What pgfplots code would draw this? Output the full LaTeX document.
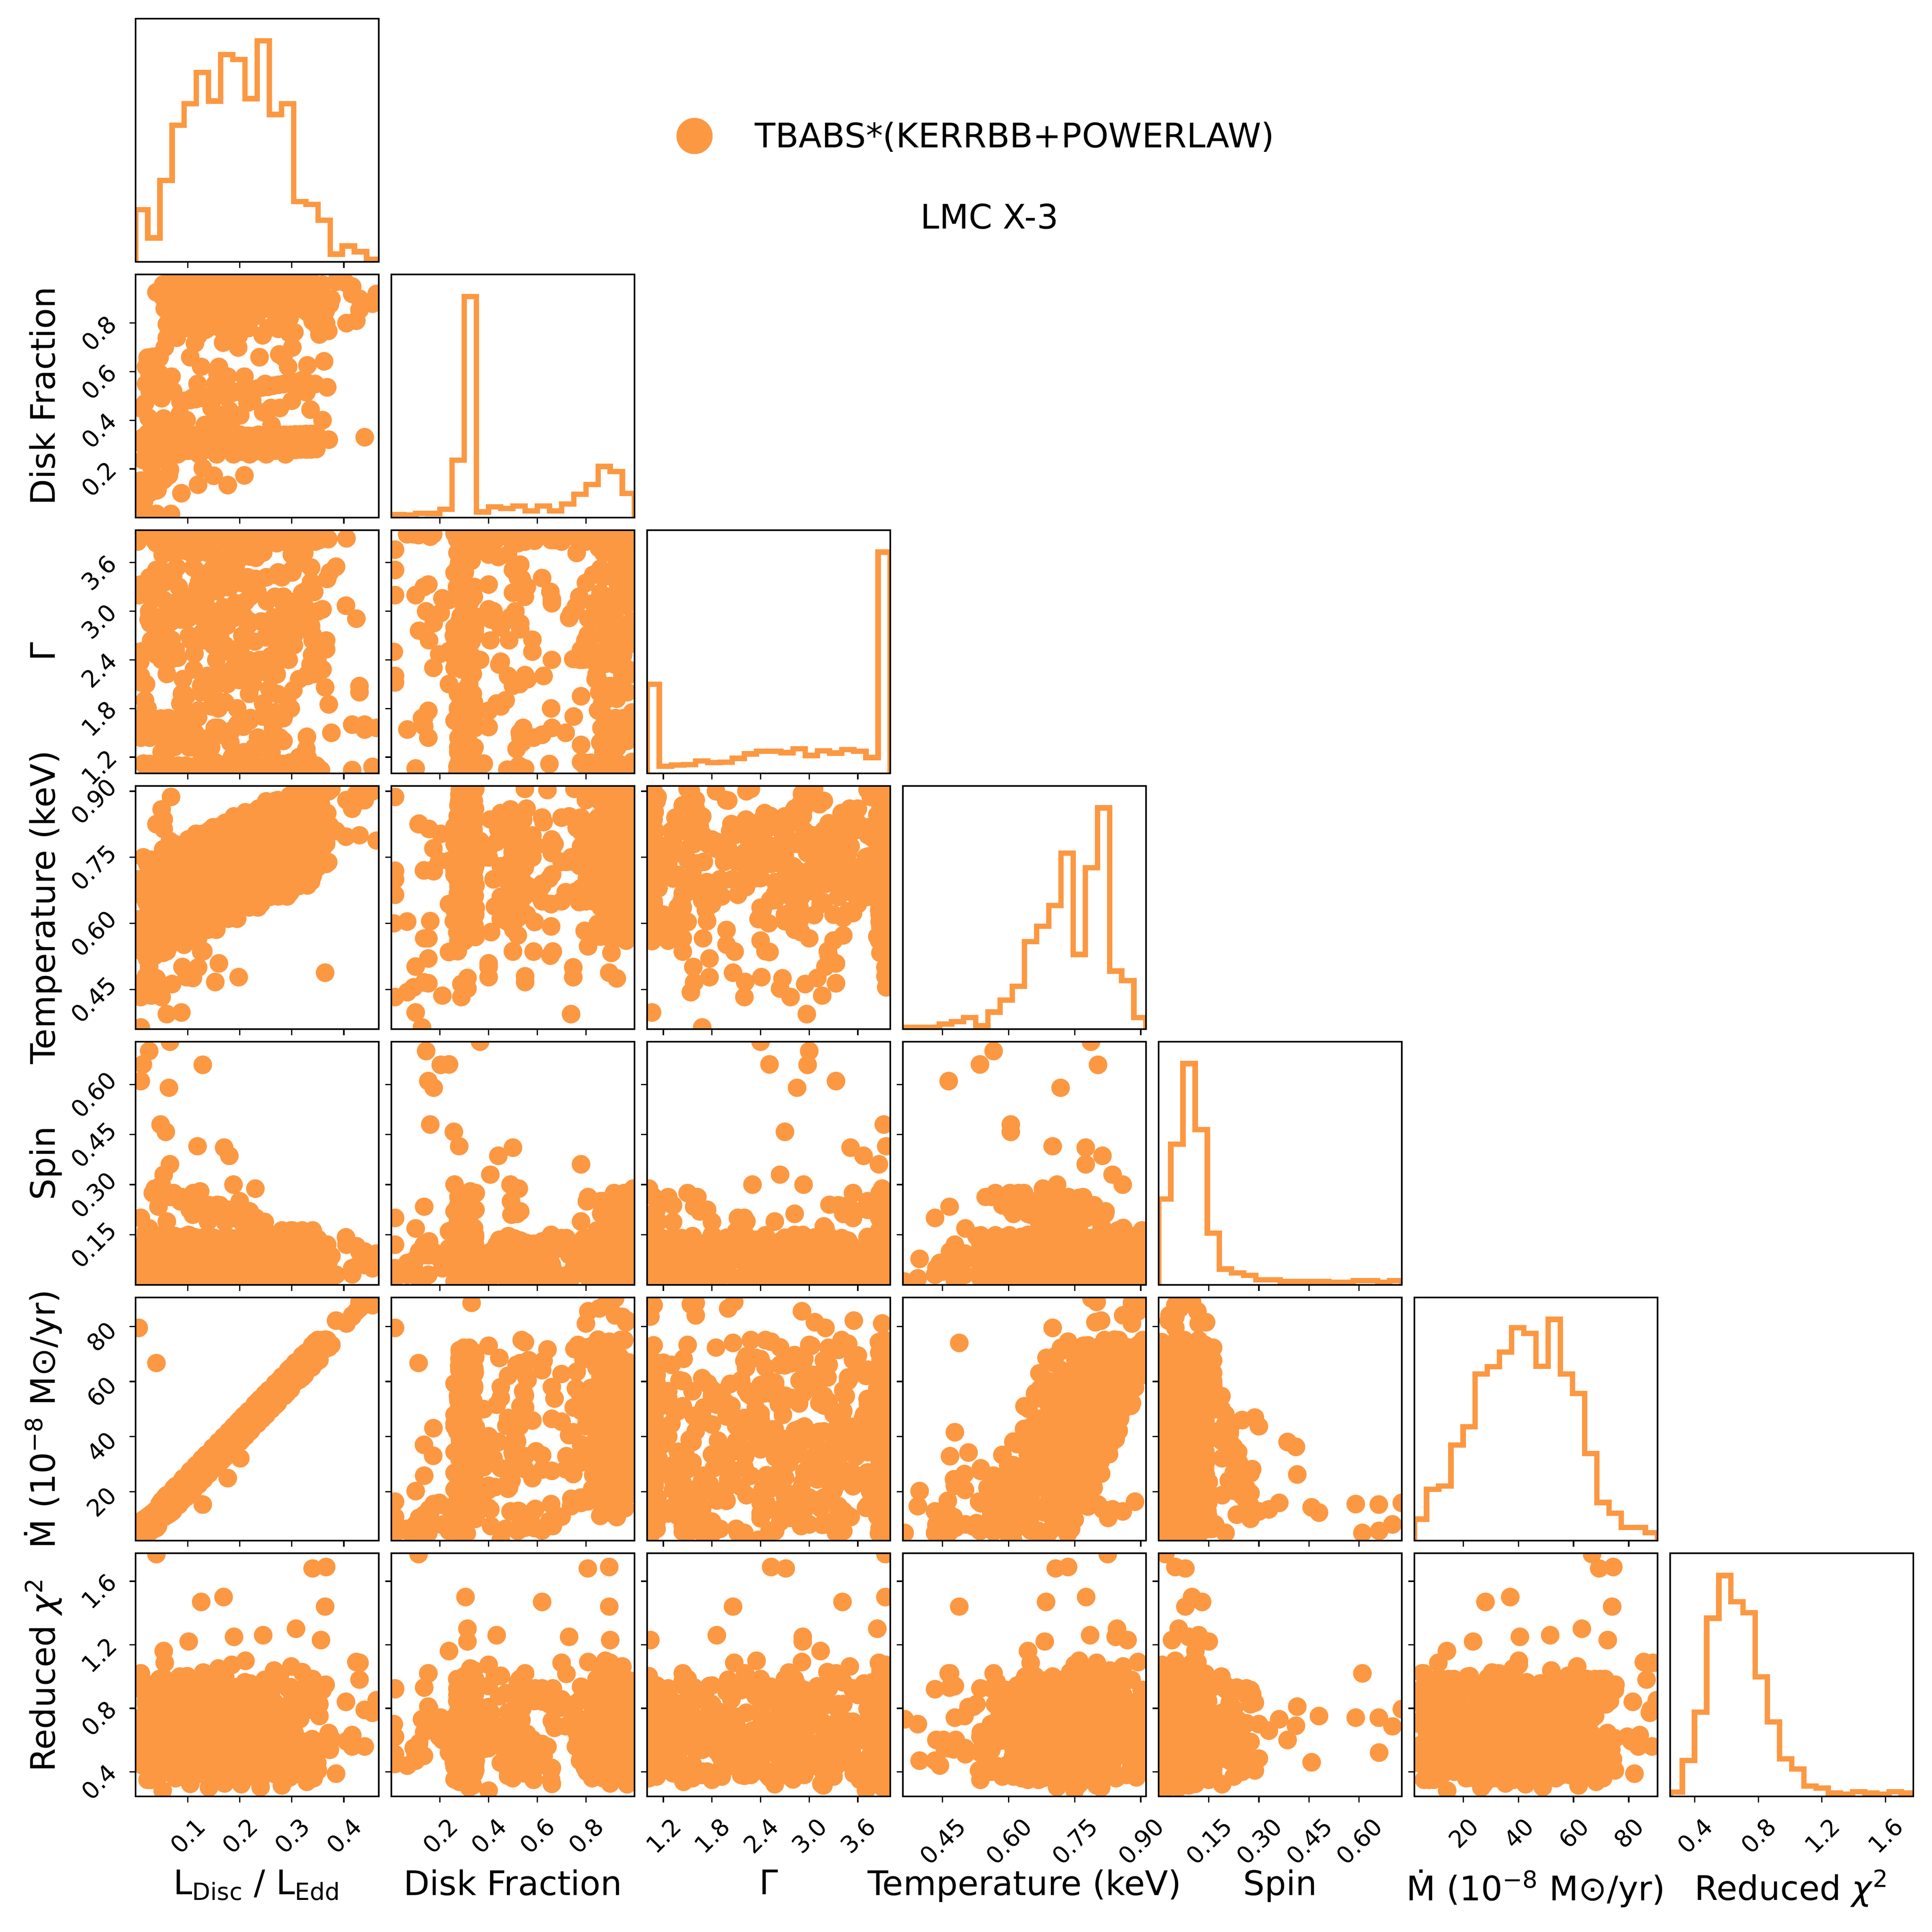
\documentclass[border=0pt]{standalone}
\usepackage{fontspec}
\setmainfont{DejaVu Sans}
\usepackage{graphicx}
\usepackage{pgfplots}
\usepackage{pgfplotstable}
\pgfplotsset{compat=1.18}
\definecolor{cor}{RGB}{252,152,66}
\newcommand\rot[1]{\rotatebox{45}{#1}}
\newcommand\mdotlab{\.{M} (10\textsuperscript{−8} M⊙/yr)}
\newcommand\chilab{Reduced \textit{χ}\textsuperscript{2}}
\pgfdeclareplotmark{rdot}{%
  \pgfpathmoveto{\pgfqpoint{-0.01pt}{0pt}}%
  \pgfpathlineto{\pgfqpoint{0.01pt}{0pt}}%
  \pgfusepathqstroke}

\pgfplotstableread{
L F G T S M C
0.004 0.31 3.86 0.69 0.08 4.8 0.572
0.009 0.45 2.375 0.61 0.03 2.5 0.456
0.015 0.33 1.12 0.75 0.12 9.9 0.75
0.020 0.62 3.99 0.65 0.10 5.9 0.574
0.028 0.53 2.85 0.72 0.05 10.5 0.948
0.040 0.30 3.88 0.61 0.14 6.8 0.644
0.049 0.34 1.675 0.68 0.09 12.6 0.388
0.052 0.40 3.70 0.75 0.01 14.1 0.282
0.056 0.70 3.86 0.65 0.11 10.9 1.086
0.060 0.32 2.225 0.71 0.19 18.7 0.772
0.063 0.93 1.12 0.61 0.06 14.3 0.496
0.066 0.28 3.99 0.73 0.08 17.9 0.66
0.069 0.58 2.65 0.68 0.03 12.5 0.474
0.071 0.85 3.10 0.73 0.12 16.8 0.758
0.073 0.335 3.98 0.65 0.10 18.2 0.944
0.075 0.315 1.325 0.78 0.05 14.6 0.588
0.077 0.97 3.86 0.68 0.14 22.0 0.362
0.079 0.74 3.96 0.75 0.09 17.4 0.816
0.081 0.26 2.425 0.63 0.01 20.8 0.522
0.083 0.90 1.02 0.70 0.11 15.2 0.596
0.085 0.325 3.94 0.76 0.26 19.6 0.48
0.087 0.48 2.90 0.66 0.06 21.0 0.774
0.089 0.88 3.98 0.72 0.08 17.4 0.598
0.091 0.31 1.725 0.63 0.03 24.7 0.864
0.093 0.33 3.75 0.75 0.12 20.1 0.668
0.095 0.95 3.96 0.70 0.10 23.5 0.412
0.097 0.78 1.95 0.74 0.05 17.9 0.616
0.099 0.30 1.02 0.66 0.14 22.3 1.002
0.101 0.92 3.94 0.79 0.09 23.7 0.796
0.103 0.34 2.70 0.69 0.01 20.1 0.52
0.105 0.66 3.15 0.76 0.11 27.5 0.324
0.107 0.86 3.92 0.64 0.25 22.9 0.498
0.109 0.32 1.375 0.71 0.06 26.3 0.674
0.111 0.28 3.96 0.78 0.08 20.6 0.968
0.112 0.99 3.90 0.68 0.03 24.8 0.612
0.113 0.83 2.475 0.74 0.12 26.0 0.386
0.115 0.335 1.08 0.64 0.10 22.4 0.732
0.116 0.93 3.88 0.76 0.05 29.6 0.546
0.118 0.315 2.95 0.71 0.14 25.0 0.62
0.119 0.55 3.92 0.75 0.09 28.2 0.504
0.121 0.85 1.775 0.67 0.01 22.6 0.798
0.122 0.26 3.475 0.80 0.11 26.8 0.514
0.124 0.325 3.90 0.70 0.28 28.2 0.888
0.125 0.97 2.00 0.77 0.06 24.4 0.692
0.127 0.80 1.08 0.65 0.08 31.8 0.436
0.128 0.31 3.88 0.72 0.03 27.0 0.532
0.130 0.90 2.75 0.79 0.12 30.4 1.026
0.131 0.33 3.20 0.69 0.10 24.5 0.82
0.133 0.38 3.86 0.75 0.05 28.9 0.544
0.134 0.88 1.425 0.65 0.14 30.1 0.708
0.135 0.30 3.90 0.77 0.09 26.3 0.414
0.136 0.34 3.99 0.72 0.01 33.5 0.698
0.138 0.95 2.20 0.76 0.11 28.9 0.992
0.139 0.78 1.14 0.68 0.19 32.1 0.636
0.141 0.32 3.98 0.81 0.06 26.5 0.302
0.143 0.92 3.00 0.71 0.08 30.9 0.756
0.144 0.28 3.86 0.78 0.03 32.1 0.57
0.146 0.45 1.825 0.66 0.12 28.5 0.644
0.148 0.86 3.525 0.73 0.10 35.9 0.528
0.149 0.335 3.99 0.79 0.05 31.1 0.714
0.151 0.315 2.05 0.70 0.14 34.4 0.538
0.152 0.99 1.14 0.76 0.09 28.6 0.912
0.154 0.83 3.98 0.66 0.01 33.0 0.716
0.156 0.26 2.80 0.78 0.11 34.4 0.352
0.157 0.93 3.25 0.73 0.24 30.6 0.556
0.159 0.325 3.96 0.77 0.06 38.0 1.05
0.160 0.62 1.475 0.69 0.08 33.2 0.844
0.162 0.85 3.99 0.82 0.03 36.6 0.568
0.164 0.31 3.94 0.72 0.12 31.0 0.624
0.165 0.33 2.25 0.79 0.10 35.2 0.438
0.167 0.97 1.04 0.67 0.05 36.6 0.722
0.168 0.72 3.92 0.74 0.14 32.8 1.016
0.169 0.30 3.05 0.80 0.09 40.0 0.552
0.171 0.90 3.96 0.71 0.01 35.3 0.326
0.172 0.34 1.875 0.77 0.11 38.5 0.78
0.173 0.53 3.575 0.67 0.22 32.7 0.594
0.175 0.88 3.94 0.79 0.06 37.1 0.668
0.176 0.32 2.10 0.74 0.08 38.3 0.444
0.177 0.28 1.04 0.78 0.03 34.5 0.738
0.179 0.95 3.92 0.70 0.12 41.9 0.562
0.180 0.78 2.525 0.83 0.10 37.1 0.936
0.181 0.335 3.30 0.73 0.05 40.3 0.632
0.182 0.92 3.90 0.80 0.14 34.5 0.376
0.184 0.315 1.525 0.68 0.09 38.9 0.58
0.185 0.40 3.94 0.75 0.01 40.1 1.074
0.186 0.86 3.88 0.81 0.11 36.3 0.868
0.188 0.26 2.30 0.71 0.30 43.7 0.484
0.189 0.325 1.10 0.77 0.06 38.9 0.648
0.191 0.99 3.86 0.68 0.08 42.2 0.462
0.192 0.83 3.10 0.80 0.03 36.4 0.746
0.193 0.31 3.90 0.75 0.12 40.6 0.932
0.195 0.93 1.60 0.79 0.10 42.0 0.576
0.196 0.33 3.625 0.71 0.05 38.2 0.35
0.197 0.70 3.88 0.84 0.14 45.4 0.804
0.199 0.85 2.15 0.74 0.09 40.8 0.618
0.200 0.30 1.10 0.81 0.01 44.0 0.584
0.201 0.34 3.86 0.69 0.11 38.2 0.468
0.203 0.97 2.575 0.76 0.19 42.6 0.322
0.204 0.80 3.35 0.82 0.06 43.8 0.586
0.205 0.32 3.99 0.72 0.08 40.0 0.852
0.207 0.90 1.575 0.78 0.03 47.4 0.656
0.208 0.28 3.88 0.68 0.12 42.6 0.40
0.209 0.58 3.98 0.80 0.10 45.8 0.604
0.211 0.88 2.35 0.76 0.05 40.1 1.098
0.213 0.335 1.00 0.80 0.14 44.5 0.784
0.214 0.315 3.96 0.72 0.09 45.7 0.508
0.216 0.95 2.825 0.85 0.01 42.1 0.672
0.217 0.78 3.99 0.75 0.11 49.3 0.486
0.219 0.26 1.65 0.82 0.22 44.7 0.662
0.220 0.92 3.675 0.70 0.06 47.9 0.956
0.222 0.325 3.98 0.77 0.08 42.3 0.60
0.224 0.48 2.20 0.83 0.03 46.7 0.374
0.225 0.86 1.00 0.73 0.12 47.9 0.828
0.227 0.31 3.96 0.79 0.10 44.3 0.534
0.229 0.33 2.625 0.69 0.05 51.7 0.608
0.230 0.99 3.40 0.82 0.14 46.9 0.492
0.232 0.83 3.94 0.77 0.09 50.2 0.786
0.234 0.30 1.30 0.81 0.01 44.6 0.502
0.235 0.93 3.98 0.73 0.11 48.8 0.876
0.236 0.34 3.92 0.86 0.17 50.0 0.68
0.238 0.66 2.40 0.76 0.06 46.4 0.424
0.239 0.85 1.06 0.83 0.08 53.6 0.628
0.240 0.32 3.90 0.71 0.03 48.8 0.304
0.241 0.28 2.875 0.78 0.12 52.0 0.808
0.243 0.97 3.94 0.84 0.10 46.4 0.532
0.244 0.75 1.70 0.74 0.05 50.6 0.696
0.245 0.335 3.725 0.80 0.14 51.8 0.402
0.246 0.90 3.92 0.70 0.09 48.0 0.686
0.248 0.315 2.25 0.82 0.01 55.4 0.98
0.249 0.55 1.06 0.77 0.11 50.6 0.624
0.250 0.88 3.90 0.82 0.16 53.8 0.398
0.251 0.26 2.675 0.74 0.06 47.9 0.744
0.252 0.325 3.125 0.87 0.08 52.1 0.558
0.253 0.95 3.88 0.77 0.03 53.3 0.632
0.255 0.78 1.35 0.84 0.12 49.7 0.516
0.256 0.31 3.92 0.72 0.10 56.9 0.702
0.258 0.92 3.86 0.79 0.05 52.3 0.526
0.260 0.33 2.45 0.85 0.14 55.7 0.90
0.261 0.38 1.12 0.75 0.09 49.9 0.704
0.263 0.86 3.99 0.81 0.01 54.3 0.448
0.265 0.30 2.925 0.71 0.11 55.7 0.544
0.266 0.34 3.88 0.83 0.07 51.9 1.038
0.268 0.99 1.75 0.78 0.06 59.3 0.832
0.270 0.83 3.45 0.83 0.08 54.7 0.556
0.272 0.32 3.86 0.75 0.03 58.0 0.612
0.273 0.93 1.975 0.88 0.12 52.2 0.426
0.275 0.28 1.12 0.78 0.10 56.6 0.71
0.277 0.45 3.99 0.85 0.05 58.0 1.004
0.279 0.85 2.725 0.73 0.14 54.4 0.648
0.281 0.335 3.175 0.80 0.09 61.8 0.314
0.283 0.315 3.98 0.86 0.01 57.2 0.768
0.284 0.97 1.40 0.76 0.11 60.4 0.582
0.286 0.80 3.86 0.82 0.07 54.8 0.656
0.288 0.26 3.96 0.72 0.06 59.2 0.432
0.289 0.90 2.50 0.84 0.08 60.4 0.726
0.291 0.325 1.02 0.80 0.03 56.7 0.55
0.293 0.62 3.94 0.84 0.12 64.1 0.924
0.294 0.88 2.975 0.76 0.10 59.3 0.728
0.296 0.31 3.98 0.89 0.05 62.7 0.364
0.298 0.33 1.80 0.79 0.14 57.1 0.568
0.299 0.95 3.50 0.86 0.09 61.3 1.062
0.301 0.70 3.96 0.74 0.01 62.7 0.856
0.303 0.30 2.025 0.81 0.11 59.1 0.472
0.306 0.92 1.02 0.87 0.07 66.7 0.636
0.311 0.34 3.94 0.78 0.06 62.6 0.45
0.316 0.53 2.775 0.84 0.08 66.6 0.734
0.320 0.86 3.225 0.74 0.03 61.4 1.028
0.325 0.32 3.92 0.86 0.12 66.4 0.564
0.329 0.28 1.45 0.81 0.10 68.2 0.338
0.334 0.99 3.96 0.86 0.05 65.1 0.792
0.339 0.83 3.90 0.78 0.14 73.1 0.606
0.344 0.335 2.225 0.90 0.09 69.1 0.572
0.349 0.93 1.08 0.81 0.01 73.1 0.456
0.353 0.315 3.88 0.89 0.11 67.8 0.75
0.359 0.40 3.025 0.77 0.07 73.0 0.574
0.365 0.85 3.92 0.84 0.06 75.2 0.948
0.371 0.32 1.85 0.90 0.08 72.3 0.644
0.385 0.97 3.55 0.81 0.03 82.1 0.388
0.405 0.80 3.90 0.88 0.12 81.0 0.592
0.430 0.90 2.075 0.80 0.10 88.9 1.086
0.455 0.88 1.08 0.90 0.05 87.7 0.772
0.066 0.365 2.40 0.787 0.728 15.9 0.795
0.026 0.143 3.00 0.566 0.700 8.1 0.686
0.014 0.237 2.51 0.535 0.660 5.7 0.52
0.129 0.203 2.98 0.803 0.659 15.3 0.74
0.010 0.152 3.33 0.464 0.610 5.0 1.02
0.064 0.174 2.85 0.718 0.590 15.5 0.74
0.048 0.160 3.92 0.605 0.480 12.4 0.75
0.058 0.257 2.70 0.605 0.458 14.3 0.46
0.119 0.279 3.95 0.700 0.415 26.2 0.81
0.170 0.500 3.51 0.775 0.411 36.2 0.69
0.180 0.440 3.67 0.813 0.386 38.0 0.60
0.066 0.780 3.86 0.775 0.361 15.9 0.73
0.054 0.407 2.64 0.836 0.330 13.5 0.66
0.050 0.490 2.93 0.859 0.300 12.8 0.70
0.044 0.135 1.58 0.466 0.234 11.6 0.93
0.010 0.015 2.20 0.433 0.200 5.0 0.92
0.026 0.100 3.20 0.502 0.169 8.1 0.51
0.010 0.126 1.68 0.364 0.010 5.0 0.73
0.088 0.100 1.06 0.398 0.078 20.2 0.47
0.014 0.066 1.54 0.444 0.066 5.7 0.44
0.022 0.152 1.77 0.520 0.088 7.3 0.81
0.090 0.400 1.57 0.501 0.094 20.6 0.55
0.098 0.400 1.77 0.478 0.014 22.1 0.94
0.126 0.500 2.08 0.536 0.020 27.6 0.62
0.153 0.550 2.21 0.467 0.100 32.8 1.02
0.198 0.748 2.41 0.478 0.120 41.6 0.74
0.364 0.896 2.06 0.488 0.080 74.0 1.44
0.040 0.927 2.67 0.475 0.050 10.8 0.54
0.030 0.313 2.64 0.452 0.040 8.9 0.60
0.050 0.288 2.77 0.433 0.030 12.8 0.47
0.060 0.739 2.97 0.394 0.020 14.7 0.70
0.110 0.313 3.10 0.476 0.050 24.5 0.938
0.070 0.288 2.95 0.462 0.060 16.7 0.55
0.130 0.500 3.23 0.537 0.030 28.4 0.65
0.160 0.400 3.33 0.509 0.080 34.2 0.808
0.120 0.748 3.94 0.500 0.030 26.4 0.75
0.020 0.550 3.94 0.480 0.090 6.9 0.60
0.040 0.300 1.06 0.560 0.020 10.8 0.70
0.040 0.112 3.94 0.825 0.020 66.7 1.77
0.366 0.896 2.53 0.735 0.050 74.4 1.69
0.340 0.808 2.71 0.707 0.080 69.3 1.68
0.169 0.305 3.94 0.776 0.100 37.0 1.50
0.126 0.620 3.41 0.685 0.130 28.0 1.47
0.308 0.313 3.84 0.846 0.060 63.0 1.30
0.245 0.433 1.86 0.785 0.120 51.5 1.26
0.189 0.731 2.92 0.843 0.090 40.5 1.25
0.356 0.900 1.04 0.870 0.040 72.4 1.23
0.102 0.313 2.92 0.682 0.150 23.5 1.22
0.054 0.237 3.14 0.644 0.110 14.0 1.16
0.010 0.152 1.44 0.566 0.030 5.5 1.02
0.010 0.015 2.12 0.665 0.200 5.0 0.925
0.006 0.015 3.20 0.700 0.050 79.5 0.62
0.177 0.580 2.50 0.750 0.080 24.9 0.37
0.201 0.420 3.00 0.700 0.100 32.1 0.70
0.440 0.330 1.60 0.880 0.060 88.5 0.56
0.177 0.134 3.30 0.720 0.120 37.0 0.50
0.209 0.173 2.30 0.770 0.090 43.0 0.66
0.068 0.015 3.76 0.887 0.020 16.3 0.51
0.040 0.015 3.51 0.719 0.120 10.8 0.45
0.006 0.010 2.50 0.600 0.040 4.2 0.70
0.042 0.114 2.76 0.826 0.100 10.5 0.58
0.054 0.155 2.64 0.814 0.130 13.5 0.80
0.066 0.197 2.47 0.742 0.080 15.9 0.62
0.016 0.065 3.95 0.604 0.030 6.5 0.44
0.150 0.172 3.95 0.722 0.100 33.0 0.75
0.120 0.135 1.69 0.566 0.090 25.8 0.65
0.018 0.092 3.95 0.455 0.060 5.5 0.55
0.030 0.210 3.16 0.436 0.050 8.0 0.60
0.020 0.237 2.10 0.742 0.160 6.5 0.70
0.404 0.965 3.07 0.797 0.142 81.5 0.84
0.424 0.810 2.91 0.894 0.116 85.5 1.09
0.430 0.855 2.00 0.879 0.063 86.5 0.98
0.416 0.920 1.60 0.860 0.032 84.0 0.63
0.463 0.920 1.56 0.788 0.094 90.2 0.85
0.440 0.880 1.54 0.900 0.100 88.0 0.79
0.416 0.950 1.04 0.870 0.050 83.5 0.56
0.284 0.660 3.10 0.790 0.040 58.0 0.72
0.330 0.626 2.20 0.830 0.090 67.5 0.50
0.368 0.536 3.40 0.850 0.120 75.0 0.61
0.328 0.515 1.30 0.760 0.050 66.0 0.85
0.260 0.450 2.80 0.730 0.130 54.0 0.56
0.300 0.480 3.70 0.810 0.020 62.0 0.66
0.025 0.410 2.90 0.580 0.100 7.5 0.77
0.035 0.557 3.30 0.620 0.070 9.0 0.64
0.018 0.470 1.90 0.700 0.130 6.5 0.50
0.110 0.494 3.95 0.650 0.210 24.0 0.61
0.142 0.888 3.864 0.63 0.09 27.9 0.360
0.264 0.277 3.878 0.745 0.01 52.9 0.390
0.053 0.911 3.900 0.678 0.099 13.0 0.439
0.175 0.284 3.930 0.795 0.013 38.0 0.508
0.297 0.935 3.970 0.670 0.105 63.0 0.598
0.086 0.477 1.047 0.604 0.020 23.1 0.706
0.208 0.334 1.26 0.720 0.112 40.0 0.835
0.330 0.844 2.22 0.836 0.027 65.0 0.984
0.119 0.341 3.30 0.770 0.119 25.1 0.449
0.241 0.867 3.908 0.645 0.034 50.1 0.637
0.030 0.271 1.000 0.579 0.125 10.2 0.845
0.152 0.890 1.92 0.695 0.040 35.2 0.370
0.274 0.278 3.48 0.811 0.132 60.2 0.617
0.063 0.914 3.939 0.745 0.047 12.2 0.885
0.185 0.285 1.20 0.620 0.139 37.2 0.469
0.307 0.937 3.12 0.737 0.054 62.2 0.776
0.096 0.481 3.957 0.670 0.146 22.3 0.400
0.218 0.335 1.98 0.786 0.060 47.3 0.746
0.340 0.846 3.882 0.903 0.163 72.3 0.409
0.129 0.342 1.32 0.595 0.067 24.3 0.796
0.251 0.870 3.42 0.712 0.050 49.3 0.499
0.040 0.272 1.082 0.645 0.074 9.4 0.924
0.162 0.893 3.48 0.761 0.238 34.4 0.667
0.284 0.279 1.117 0.878 0.081 59.4 0.429
0.073 0.916 3.869 0.570 0.275 19.4 0.914
0.195 0.286 1.80 0.687 0.087 44.4 0.716
0.317 0.940 3.935 0.803 0.002 61.4 0.538
0.106 0.484 2.64 0.736 0.094 21.5 0.380
0.228 0.336 1.094 0.853 0.009 46.5 0.944
0.350 0.849 3.904 0.728 0.101 71.5 0.825
0.139 0.343 2.76 0.662 0.016 31.5 0.726
0.261 0.872 1.26 0.778 0.108 56.5 0.647
0.050 0.272 3.952 0.711 0.022 16.6 0.588
0.172 0.896 3.96 0.828 0.114 33.6 0.548
0.294 0.280 2.40 0.703 0.029 58.6 0.528
0.083 0.919 1.38 0.637 0.121 18.6 0.528
0.205 0.287 1.023 0.753 0.036 43.6 0.548
0.327 0.942 3.948 0.869 0.128 68.6 0.588
0.116 0.488 3.895 0.803 0.043 28.7 0.647
0.238 0.336 3.84 0.678 0.134 45.7 0.726
0.027 0.520 3.42 0.612 0.049 5.7 0.825
0.149 0.344 2.70 0.728 0.141 30.7 0.944
0.271 0.875 2.52 0.844 0.056 55.7 0.380
0.060 0.273 2.46 0.537 0.148 15.8 0.538
0.182 0.898 2.52 0.653 0.063 40.8 0.716
0.304 0.280 2.70 0.770 0.025 65.8 0.914
0.093 0.922 3.00 0.703 0.069 17.8 0.429
0.215 0.288 3.42 0.819 0.213 42.8 0.667
0.337 0.945 3.54 0.695 0.076 67.8 0.924
0.126 0.492 3.895 0.628 0.250 27.9 0.499
0.248 0.337 3.948 0.745 0.083 52.9 0.796
0.037 0.524 1.023 0.678 0.288 13.0 0.409
0.159 0.344 1.56 0.794 0.090 38.0 0.746
0.281 0.877 2.70 0.670 0.004 54.9 0.400
0.070 0.274 3.96 0.603 0.096 15.0 0.776
0.192 0.901 3.952 0.720 0.011 40.0 0.469
0.314 0.281 1.08 0.836 0.103 65.0 0.885
0.103 0.924 2.70 0.769 0.018 25.1 0.617
0.225 0.288 3.904 0.645 0.110 50.1 0.370
0.347 0.948 1.094 0.762 0.025 67.0 0.845
0.136 0.495 2.94 0.695 0.116 27.1 0.637
0.258 0.338 3.935 0.811 0.031 52.1 0.449
0.046 0.528 1.50 0.744 0.123 12.0 0.984
0.169 0.345 3.869 0.620 0.038 37.2 0.835
0.291 0.880 1.117 0.737 0.130 62.2 0.706
0.079 0.275 3.54 0.669 0.045 22.0 0.598
0.202 0.903 1.082 0.786 0.137 39.2 0.508
0.324 0.282 3.72 0.903 0.052 64.2 0.439
0.112 0.927 1.32 0.595 0.143 24.1 0.390
0.235 0.289 3.882 0.712 0.058 49.3 0.360
0.023 0.657 1.80 0.644 0.150 9.1 0.350
0.145 0.499 3.957 0.761 0.065 34.1 0.360
0.268 0.339 3.18 0.878 0.038 51.3 0.390
0.056 0.859 1.38 0.570 0.072 11.2 0.439
0.178 0.346 3.939 0.686 0.225 36.2 0.508
0.301 0.883 3.48 0.803 0.078 61.4 0.598
0.089 0.276 1.62 0.736 0.263 21.2 0.706
0.211 0.906 1.000 0.852 0.085 46.2 0.835
0.334 0.283 3.908 0.728 0.002 71.4 0.984
0.122 0.929 3.36 0.661 0.092 23.3 0.449
0.244 0.290 2.40 0.777 0.007 48.3 0.637
0.033 0.661 1.56 0.711 0.099 8.3 0.845
0.155 0.502 1.047 0.586 0.013 33.3 0.370
0.277 0.340 3.970 0.703 0.105 58.3 0.617
0.066 0.862 3.930 0.636 0.020 18.4 0.885
0.188 0.347 3.900 0.752 0.112 43.4 0.469
0.310 0.885 3.878 0.869 0.027 60.4 0.776
0.099 0.276 3.864 0.561 0.119 20.4 0.400
0.221 0.909 3.860 0.678 0.034 45.4 0.746
0.343 0.284 3.864 0.794 0.125 70.4 0.409
0.132 0.932 3.878 0.727 0.040 30.5 0.796
0.254 0.291 3.900 0.844 0.132 55.5 0.499
0.043 0.664 3.930 0.536 0.047 7.5 0.924
0.165 0.506 3.970 0.653 0.139 32.5 0.667
0.287 0.340 1.047 0.769 0.054 57.5 0.429
0.076 0.864 1.56 0.702 0.146 17.6 0.914
0.198 0.270 2.52 0.819 0.060 42.6 0.716
0.320 0.888 3.18 0.695 0.163 67.6 0.538
0.109 0.277 3.908 0.628 0.067 27.7 0.380
0.231 0.911 1.000 0.744 0.200 44.6 0.944
0.020 0.284 1.80 0.677 0.074 4.7 0.825
0.142 0.935 3.36 0.794 0.238 29.7 0.726
0.264 0.292 3.939 0.670 0.081 54.7 0.647
0.053 0.958 1.50 0.603 0.275 14.8 0.588
0.175 0.510 3.00 0.719 0.087 39.8 0.548
0.297 0.341 3.957 0.836 0.002 64.8 0.528
0.086 0.867 1.86 0.769 0.094 16.8 0.528
0.208 0.271 3.882 0.645 0.009 41.8 0.548
0.330 0.890 1.20 0.761 0.101 66.8 0.588
0.119 0.278 3.72 0.694 0.016 26.9 0.647
0.241 0.914 1.082 0.811 0.108 51.9 0.726
0.030 0.285 3.36 0.744 0.022 11.9 0.825
0.152 0.937 1.117 0.620 0.114 28.9 0.944
0.274 0.292 3.869 0.736 0.029 53.9 0.380
0.063 0.961 1.68 0.669 0.121 14.0 0.538
0.185 0.513 3.935 0.786 0.036 39.0 0.716
0.307 0.342 2.94 0.902 0.128 64.0 0.914
0.096 0.870 1.094 0.595 0.043 24.0 0.429
0.218 0.272 3.904 0.711 0.134 49.0 0.667
0.340 0.893 2.64 0.827 0.049 66.0 0.924
0.129 0.279 1.14 0.761 0.141 26.1 0.499
0.251 0.916 3.952 0.877 0.056 51.1 0.796
0.040 0.286 3.84 0.570 0.148 11.1 0.409
0.162 0.940 2.70 0.686 0.063 36.1 0.746
0.284 0.293 1.68 0.802 0.025 61.1 0.400
0.073 0.963 1.023 0.736 0.069 21.2 0.776
0.195 0.517 3.948 0.611 0.213 38.2 0.469
0.317 0.343 3.895 0.728 0.076 63.2 0.885
0.106 0.872 3.72 0.661 0.250 23.2 0.617
0.228 0.272 3.30 0.777 0.083 48.2 0.370
0.350 0.896 3.00 0.894 0.138 73.2 0.845
0.139 0.280 2.82 0.586 0.090 33.3 0.637
0.261 0.919 2.34 0.703 0.004 50.3 0.449
0.050 0.287 2.40 0.636 0.096 10.3 0.984
0.172 0.942 2.58 0.752 0.011 35.3 0.835
0.294 0.294 2.88 0.869 0.103 60.3 0.706
0.083 0.966 3.30 0.561 0.018 20.4 0.598
0.205 0.520 3.84 0.678 0.110 45.4 0.508
0.327 0.344 3.895 0.794 0.025 70.4 0.439
0.116 0.875 3.948 0.727 0.116 22.4 0.390
0.238 0.273 1.023 0.844 0.031 47.4 0.360
0.027 0.585 1.44 0.536 0.123 7.5 0.350
0.149 0.280 2.58 0.653 0.038 32.5 0.360
0.271 0.922 3.84 0.769 0.130 57.5 0.390
0.060 0.288 3.952 0.702 0.045 17.6 0.439
0.182 0.945 1.38 0.819 0.137 34.5 0.508
0.304 0.295 2.58 0.694 0.052 59.5 0.598
0.093 0.968 3.904 0.628 0.143 19.6 0.706
0.215 0.524 1.094 0.744 0.058 44.6 0.835
0.337 0.344 2.82 0.860 0.150 69.6 0.984
0.126 0.877 3.935 0.794 0.065 29.7 0.449
0.248 0.274 1.80 0.669 0.188 54.7 0.637
0.037 0.589 3.869 0.603 0.072 6.7 0.845
0.159 0.281 1.117 0.719 0.225 31.7 0.370
0.281 0.924 3.42 0.836 0.078 56.7 0.617
0.070 0.288 1.082 0.769 0.263 16.8 0.885
0.192 0.948 3.60 0.644 0.085 41.8 0.469
0.314 0.296 1.20 0.761 0.002 66.8 0.776
0.103 0.971 3.882 0.694 0.092 26.8 0.400
0.225 0.528 2.10 0.810 0.007 43.8 0.746
0.347 0.345 3.957 0.905 0.099 68.8 0.409
0.136 0.880 3.06 0.619 0.013 28.9 0.796
0.258 0.275 1.26 0.736 0.105 53.9 0.499
0.046 0.592 3.939 0.669 0.020 13.7 0.924
0.169 0.282 3.36 0.785 0.112 38.9 0.667
0.291 0.927 1.92 0.661 0.027 55.9 0.429
0.079 0.289 1.000 0.594 0.119 15.8 0.914
0.202 0.950 3.908 0.711 0.034 41.0 0.716
0.324 0.296 3.24 0.827 0.125 66.0 0.538
0.112 0.974 2.28 0.760 0.040 25.8 0.380
0.235 0.531 1.44 0.636 0.132 51.0 0.944
0.023 0.346 1.047 0.569 0.047 10.9 0.825
0.145 0.883 3.970 0.685 0.139 27.9 0.726
0.268 0.276 3.930 0.802 0.054 53.1 0.647
0.056 0.906 3.900 0.735 0.146 12.9 0.588
0.178 0.283 3.878 0.611 0.060 37.9 0.548
0.301 0.929 3.864 0.728 0.163 63.1 0.528
0.089 0.290 3.860 0.660 0.067 23.0 0.528
0.211 0.953 3.864 0.777 0.200 48.0 0.548
0.334 0.297 3.878 0.894 0.074 65.2 0.588
0.122 0.976 3.900 0.586 0.238 25.0 0.647
0.244 0.535 3.930 0.702 0.081 50.0 0.726
0.033 0.347 3.970 0.635 0.275 10.1 0.825
0.155 0.885 1.047 0.752 0.087 35.1 0.944
0.277 0.276 1.44 0.868 0.002 60.1 0.380
0.066 0.909 2.40 0.561 0.094 12.1 0.538
0.188 0.284 3.48 0.677 0.009 37.1 0.716
0.310 0.932 3.908 0.793 0.101 62.1 0.914
0.099 0.291 1.000 0.727 0.016 22.2 0.429
0.221 0.955 1.68 0.843 0.108 47.2 0.667
0.343 0.298 3.24 0.719 0.022 72.2 0.924
0.132 0.979 3.939 0.652 0.114 32.3 0.499
0.254 0.538 1.38 0.768 0.029 49.2 0.796
0.043 0.270 3.30 0.702 0.121 9.3 0.409
0.165 0.888 3.957 0.818 0.036 34.3 0.746
0.287 0.277 1.74 0.694 0.128 59.3 0.400
0.076 0.911 3.882 0.627 0.043 19.4 0.776
0.198 0.284 1.08 0.743 0.134 44.4 0.469
0.320 0.935 3.60 0.860 0.049 69.4 0.885
0.109 0.292 1.082 0.793 0.141 21.4 0.617
0.231 0.958 3.66 0.669 0.056 46.4 0.370
0.020 0.299 1.117 0.602 0.148 6.5 0.845
0.142 0.981 3.869 0.718 0.063 31.5 0.637
0.264 0.542 1.56 0.835 0.025 56.5 0.449
0.053 0.271 3.935 0.768 0.069 16.5 0.984
0.175 0.890 2.82 0.644 0.213 33.5 0.835
0.297 0.278 1.094 0.760 0.076 58.5 0.706
0.086 0.914 3.904 0.693 0.250 18.6 0.598
0.208 0.285 2.94 0.810 0.083 43.6 0.508
0.330 0.937 1.02 0.686 0.138 68.6 0.439
0.119 0.292 3.952 0.619 0.090 28.6 0.390
0.241 0.961 3.72 0.735 0.004 53.6 0.360
0.030 0.300 2.58 0.668 0.096 5.7 0.350
0.152 0.984 1.56 0.785 0.011 30.7 0.360
0.274 0.546 1.023 0.661 0.103 55.7 0.390
0.063 0.272 3.948 0.594 0.018 15.7 0.439
0.185 0.893 3.895 0.710 0.110 40.7 0.508
0.307 0.279 3.60 0.827 0.025 65.7 0.598
0.096 0.916 3.18 0.760 0.116 17.8 0.706
0.218 0.286 2.88 0.636 0.031 42.8 0.835
0.340 0.940 2.70 0.752 0.123 67.8 0.984
0.129 0.293 2.64 0.685 0.038 27.8 0.449
0.251 0.963 2.70 0.802 0.130 52.8 0.637
0.040 0.300 2.46 0.735 0.045 12.9 0.845
0.162 0.987 2.76 0.611 0.137 37.9 0.370
0.284 0.549 3.18 0.727 0.052 54.9 0.617
0.073 0.272 3.72 0.660 0.143 14.9 0.885
0.195 0.896 3.895 0.777 0.058 39.9 0.469
0.317 0.280 3.948 0.893 0.150 64.9 0.776
0.106 0.919 1.023 0.586 0.065 25.0 0.400
0.228 0.287 1.32 0.702 0.188 50.0 0.746
0.350 0.942 2.46 0.818 0.072 75.0 0.409
0.139 0.294 3.72 0.752 0.225 27.0 0.796
0.261 0.966 3.952 0.868 0.078 52.0 0.499
0.050 0.301 1.26 0.561 0.263 12.1 0.924
0.172 0.989 2.88 0.677 0.085 37.1 0.667
0.294 0.553 3.904 0.793 0.002 62.1 0.429
0.083 0.273 1.094 0.727 0.092 22.2 0.914
0.205 0.898 2.70 0.843 0.007 39.1 0.716
0.327 0.280 3.935 0.719 0.099 64.1 0.538
0.116 0.922 1.68 0.652 0.013 24.2 0.380
0.238 0.288 3.869 0.768 0.105 49.2 0.944
0.027 0.650 1.117 0.702 0.020 9.3 0.825
0.149 0.295 3.72 0.818 0.112 34.3 0.726
0.271 0.968 1.082 0.694 0.027 59.3 0.647
0.060 0.302 3.48 0.627 0.119 11.3 0.588
0.182 0.992 1.08 0.743 0.034 36.3 0.548
0.304 0.556 3.882 0.860 0.125 61.3 0.528
0.093 0.274 1.98 0.552 0.040 21.4 0.528
0.215 0.901 3.957 0.669 0.132 46.4 0.548
0.337 0.281 3.36 0.785 0.047 71.4 0.588
0.126 0.924 1.14 0.718 0.139 31.4 0.647
0.248 0.288 3.939 0.815 0.054 48.4 0.726
0.037 0.654 3.24 0.527 0.146 8.5 0.825
0.159 0.296 1.80 0.644 0.060 33.5 0.944
0.281 0.971 1.000 0.760 0.163 58.5 0.380
0.070 0.303 3.908 0.693 0.067 18.5 0.538
0.192 0.994 3.54 0.810 0.200 43.5 0.716
0.314 0.560 2.16 0.685 0.074 60.5 0.914
0.103 0.275 1.32 0.619 0.238 20.6 0.429
0.225 0.903 1.047 0.735 0.081 45.6 0.667
0.347 0.282 3.970 0.851 0.125 70.6 0.924
0.136 0.927 3.930 0.785 0.087 30.6 0.499
0.258 0.289 3.900 0.660 0.002 55.6 0.796
0.046 0.657 3.878 0.593 0.094 15.5 0.409
0.169 0.296 3.864 0.710 0.009 32.7 0.746
0.291 0.974 3.860 0.826 0.101 57.7 0.400
0.079 0.304 3.864 0.759 0.016 17.5 0.776
0.202 0.997 3.878 0.635 0.108 42.7 0.469
0.324 0.564 3.900 0.752 0.022 67.7 0.885
0.112 0.276 3.930 0.684 0.114 27.6 0.617
0.235 0.906 3.970 0.801 0.029 52.8 0.370
0.023 0.283 1.047 0.734 0.121 4.6 0.845
0.145 0.929 1.32 0.610 0.036 29.6 0.637
0.268 0.290 2.28 0.727 0.128 54.8 0.449
0.056 0.953 3.36 0.660 0.043 14.7 0.984
0.178 0.297 3.908 0.776 0.134 39.7 0.835
0.301 0.976 1.000 0.893 0.049 64.9 0.706
0.089 0.304 1.98 0.585 0.141 16.7 0.598
0.211 0.999 3.12 0.701 0.056 41.7 0.508
0.053 0.905 3.878 0.533 0.089 16.3 0.409
0.064 0.809 3.922 0.548 0.263 16.5 0.489
0.081 0.964 3.992 0.572 0.080 17.8 0.588
0.104 0.868 1.74 0.605 0.225 20.3 0.706
0.135 0.773 3.18 0.648 0.070 33.3 0.845
0.172 0.927 3.970 0.700 0.188 38.5 1.00
0.217 0.832 2.40 0.763 0.061 45.3 0.479
0.268 0.986 3.957 0.834 0.150 53.3 0.677
0.325 0.891 3.06 0.905 0.052 62.4 0.895
0.060 0.795 1.129 0.583 0.141 17.7 0.429
0.132 0.950 3.939 0.684 0.043 29.7 0.687
0.210 0.854 3.78 0.794 0.132 43.0 0.964
0.295 0.759 3.06 0.672 0.034 57.5 0.558
0.057 0.913 2.70 0.620 0.122 18.1 0.875
0.155 0.818 2.40 0.758 0.024 35.3 0.508
0.261 0.972 2.76 0.665 0.113 53.9 0.865
0.373 0.877 3.48 0.822 0.015 73.7 0.538
0.162 0.781 3.908 0.808 0.104 30.6 0.934
0.288 0.936 1.023 0.744 0.006 62.2 0.647
0.091 0.840 2.16 0.748 0.095 21.7 0.380
0.230 0.995 3.900 0.703 0.288 46.9 0.835
0.376 0.899 1.50 0.905 0.086 73.3 0.607
0.200 0.804 3.895 0.701 0.250 46.0 0.400
0.359 0.958 2.28 0.905 0.077 75.0 0.914
0.196 0.863 3.99 0.737 0.213 41.2 0.746
0.370 0.767 3.891 0.739 0.067 73.2 0.598
0.220 0.922 3.18 0.811 0.175 41.9 0.469
0.077 0.826 2.52 0.651 0.058 21.0 0.360
0.271 0.981 2.22 0.682 0.147 56.8 0.974
0.142 0.885 1.98 0.782 0.049 29.7 0.904
0.349 0.790 2.40 0.832 0.138 68.1 0.855
0.234 0.944 3.24 0.711 0.040 52.6 0.825
0.125 0.849 3.89 0.599 0.129 29.4 0.815
0.353 0.753 3.99 0.905 0.031 71.8 0.825
0.257 0.908 2.04 0.825 0.119 51.1 0.855
0.169 0.812 3.895 0.742 0.021 32.0 0.904
0.087 0.967 1.44 0.668 0.110 23.0 0.974
0.342 0.871 3.900 0.785 0.012 70.7 0.360
0.274 0.776 2.40 0.730 0.101 55.4 0.469
0.213 0.930 1.023 0.685 0.003 41.5 0.598
0.159 0.835 3.908 0.649 0.092 38.0 0.746
0.111 0.989 3.54 0.623 0.275 26.6 0.914
0.070 0.894 2.88 0.606 0.083 16.7 0.400
0.366 0.798 2.64 0.781 0.088 72.4 0.607
0.339 0.953 2.46 0.783 0.073 65.1 0.835
0.319 0.858 2.94 0.796 0.050 68.2 0.380
0.305 0.762 3.72 0.817 0.064 63.5 0.647
0.298 0.917 3.939 0.848 0.163 60.1 0.934
0.296 0.821 1.129 0.887 0.055 57.7 0.538
0.307 0.976 2.82 0.699 0.144 66.9 0.865
0.321 0.566 3.957 0.759 0.046 67.6 0.508
0.336 0.444 2.34 0.825 0.135 68.5 0.875
0.362 0.642 3.970 0.903 0.037 71.6 0.558
0.072 0.520 3.42 0.573 0.126 13.0 0.964
0.114 0.717 1.50 0.671 0.028 28.2 0.687
0.157 0.595 3.99 0.776 0.116 34.6 0.429
0.215 0.473 3.922 0.654 0.018 43.9 0.895
0.276 0.671 3.878 0.780 0.107 53.8 0.677
0.345 0.549 3.860 0.905 0.009 74.3 0.479
0.085 0.426 3.869 0.638 0.098 21.6 1.00
}\data

\pgfplotsset{
  base/.style={width=143.76pt, height=143.76pt, scale only axis, anchor=south west,
    axis line style={black, line width=0.8pt},
    tick style={black, line width=0.8pt},
    major tick length=3.5pt, tick align=outside, tick pos=left,
    xticklabels={}, yticklabels={},
    xticklabel style={font=\fontsize{14}{16}\selectfont, anchor=north, inner sep=0pt, yshift=-8pt},
    yticklabel style={font=\fontsize{14}{16}\selectfont, anchor=east, inner sep=0pt, xshift=-6.5pt, yshift=-6pt},
    every axis x label/.style={at={(axis description cs:0.5,-0.3)}, anchor=north, inner sep=0pt, font=\fontsize{20}{24}\selectfont},
    every axis y label/.style={at={(axis description cs:-0.3,0.5)}, anchor=south, rotate=90, inner sep=0pt, text depth=4.2pt, font=\fontsize{20}{24}\selectfont},
    axis on top, clip=true, clip marker paths=true},
  sc/.style={only marks, mark=rdot, color=cor, mark options={line width=11pt, line cap=round, draw=cor}},
  hs/.style={const plot mark right, color=cor, line width=3.2pt, line join=miter, mark=none},
  vxL/.style={xmin=0, xmax=0.467, xtick={0.1,0.2,0.3,0.4}},
  vxF/.style={xmin=0, xmax=1, xtick={0.2,0.4,0.6,0.8}},
  vyF/.style={ymin=0, ymax=1, ytick={0.2,0.4,0.6,0.8}},
  vxG/.style={xmin=1, xmax=4, xtick={1.2,1.8,2.4,3.0,3.6}},
  vyG/.style={ymin=1, ymax=4, ytick={1.2,1.8,2.4,3.0,3.6}},
  vxT/.style={xmin=0.36, xmax=0.912, xtick={0.45,0.6,0.75,0.9}},
  vyT/.style={ymin=0.36, ymax=0.912, ytick={0.45,0.6,0.75,0.9}},
  vxS/.style={xmin=0, xmax=0.728, xtick={0.15,0.3,0.45,0.6}},
  vyS/.style={ymin=0, ymax=0.728, ytick={0.15,0.3,0.45,0.6}},
  vxM/.style={xmin=2.2, xmax=90.5, xtick={20,40,60,80}},
  vyM/.style={ymin=2.2, ymax=90.5, ytick={20,40,60,80}},
  vxC/.style={xmin=0.245, xmax=1.776, xtick={0.4,0.8,1.2,1.6}},
  vyC/.style={ymin=0.245, ymax=1.776, ytick={0.4,0.8,1.2,1.6}},
  lxL/.style={xticklabels={\rot{0.1},\rot{0.2},\rot{0.3},\rot{0.4}}, xlabel={L\textsubscript{Disc} / L\textsubscript{Edd}}},
  lxF/.style={xticklabels={\rot{0.2},\rot{0.4},\rot{0.6},\rot{0.8}}, xlabel={Disk Fraction}},
  lxG/.style={xticklabels={\rot{1.2},\rot{1.8},\rot{2.4},\rot{3.0},\rot{3.6}}, xlabel={Γ}},
  lxT/.style={xticklabels={\rot{0.45},\rot{0.60},\rot{0.75},\rot{0.90}}, xlabel={Temperature (keV)}},
  lxS/.style={xticklabels={\rot{0.15},\rot{0.30},\rot{0.45},\rot{0.60}}, xlabel={Spin}},
  lxM/.style={xticklabels={\rot{20},\rot{40},\rot{60},\rot{80}}, xlabel={\mdotlab}},
  lxC/.style={xticklabels={\rot{0.4},\rot{0.8},\rot{1.2},\rot{1.6}}, xlabel={\chilab}},
  lyF/.style={yticklabels={\rot{0.2},\rot{0.4},\rot{0.6},\rot{0.8}}, ylabel={Disk Fraction}},
  lyG/.style={yticklabels={\rot{1.2},\rot{1.8},\rot{2.4},\rot{3.0},\rot{3.6}}, ylabel={Γ}},
  lyT/.style={yticklabels={\rot{0.45},\rot{0.60},\rot{0.75},\rot{0.90}}, ylabel={Temperature (keV)}},
  lyS/.style={yticklabels={\rot{0.15},\rot{0.30},\rot{0.45},\rot{0.60}}, ylabel={Spin}},
  lyM/.style={yticklabels={\rot{20},\rot{40},\rot{60},\rot{80}}, ylabel={\mdotlab}},
  lyC/.style={yticklabels={\rot{0.4},\rot{0.8},\rot{1.2},\rot{1.6}}, ylabel={\chilab}},
}

\newcommand\scat[4]{%
  \begin{axis}[base, at={(#1)}, vx#2, vy#3, #4]
    \addplot[sc] table[x=#2, y=#3]{\data};
  \end{axis}}

\begin{document}
\begin{tikzpicture}
\useasboundingbox (0,0) rectangle (1142.16pt,1142.16pt);

\begin{axis}[base, at={(80.16pt,987.36pt)}, vxL, ymin=0, ymax=723, ytick=\empty,
  legend style={at={(2.2241,0.5175)}, anchor=west, draw=none, fill=none, inner sep=0pt, outer sep=0pt,
    font=\fontsize{20}{24}\selectfont, column sep=25pt, nodes={inner sep=0pt}}]
  \addplot[hs, forget plot] coordinates {(0,0) (0.02335,155) (0.0467,71) (0.07005,242) (0.0934,406) (0.11675,470) (0.1401,563) (0.16345,478) (0.1868,616) (0.21015,602) (0.2335,485) (0.25685,657) (0.2802,438) (0.30355,470) (0.3269,179) (0.35025,171) (0.3736,124) (0.39695,23) (0.4203,47) (0.44365,30) (0.467,8) (0.467,0)};
  \addlegendimage{legend image code/.code={\fill[cor] (10.5pt,0pt) circle[radius=10.5pt];}}
  \addlegendentry{TBABS*(KERRBB+POWERLAW)}
\end{axis}
\node[anchor=base west, inner sep=0pt, font=\fontsize{20}{24}\selectfont] at (544.1pt,1006.8pt) {LMC X-3};

\scat{80.16pt,836.16pt}{L}{F}{lyF}
\begin{axis}[base, at={(231.36pt,836.16pt)}, vxF, ymin=0, ymax=723, ytick=\empty]
  \addplot[hs] coordinates {(0,0) (0.05,9) (0.1,7) (0.15,13) (0.2,12) (0.25,25) (0.3,171) (0.35,657) (0.4,17) (0.45,32) (0.5,27) (0.55,34) (0.6,20) (0.65,34) (0.7,20) (0.75,40) (0.8,69) (0.85,98) (0.9,152) (0.95,137) (1.0,72) (1.0,0)};
\end{axis}

\scat{80.16pt,684.96pt}{L}{G}{lyG}
\scat{231.36pt,684.96pt}{F}{G}{}
\begin{axis}[base, at={(382.56pt,684.96pt)}, vxG, ymin=0, ymax=586, ytick=\empty]
  \addplot[hs] coordinates {(1,0) (1.15,215) (1.3,17) (1.45,20) (1.6,21) (1.75,30) (1.9,26) (2.05,27) (2.2,36) (2.35,47) (2.5,53) (2.65,53) (2.8,50) (2.95,59) (3.1,43) (3.25,54) (3.4,49) (3.55,57) (3.7,53) (3.85,38) (4.0,533) (4.0,0)};
\end{axis}

\scat{80.16pt,533.76pt}{L}{T}{lyT}
\scat{231.36pt,533.76pt}{F}{T}{}
\scat{382.56pt,533.76pt}{G}{T}{}
\begin{axis}[base, at={(533.76pt,533.76pt)}, vxT, ymin=0, ymax=586, ytick=\empty]
  \addplot[hs] coordinates {(0.36,0) (0.3876,4) (0.4152,4) (0.4428,4) (0.4704,12) (0.498,18) (0.5256,28) (0.5532,8) (0.5808,41) (0.6084,70) (0.636,103) (0.6636,211) (0.6912,248) (0.7188,298) (0.7464,424) (0.774,180) (0.8016,389) (0.8292,533) (0.8568,140) (0.8844,117) (0.912,28) (0.912,0)};
\end{axis}

\scat{80.16pt,382.56pt}{L}{S}{lyS}
\scat{231.36pt,382.56pt}{F}{S}{}
\scat{382.56pt,382.56pt}{G}{S}{}
\scat{533.76pt,382.56pt}{T}{S}{}
\begin{axis}[base, at={(684.96pt,382.56pt)}, vxS, ymin=0, ymax=586, ytick=\empty]
  \addplot[hs] coordinates {(0,0) (0.0364,207) (0.0728,339) (0.1092,533) (0.1456,374) (0.182,125) (0.2184,38) (0.2548,29) (0.2912,23) (0.3276,12) (0.364,12) (0.4004,8) (0.4368,8) (0.4732,8) (0.5096,8) (0.546,6) (0.5824,6) (0.6188,10) (0.6552,10) (0.6916,6) (0.728,10) (0.728,0)};
\end{axis}

\scat{80.16pt,231.36pt}{L}{M}{lyM}
\scat{231.36pt,231.36pt}{F}{M}{}
\scat{382.56pt,231.36pt}{G}{M}{}
\scat{533.76pt,231.36pt}{T}{M}{}
\scat{684.96pt,231.36pt}{S}{M}{}
\begin{axis}[base, at={(836.16pt,231.36pt)}, vxM, ymin=0, ymax=587, ytick=\empty]
  \addplot[hs] coordinates {(2.2,0) (6.615,52) (11.03,124) (15.445,132) (19.86,231) (24.275,275) (28.69,402) (33.105,420) (37.52,455) (41.935,514) (46.35,500) (50.765,421) (55.18,534) (59.595,402) (64.01,355) (68.425,210) (72.84,92) (77.255,66) (81.67,32) (86.085,32) (90.5,19) (90.5,0)};
\end{axis}

\scat{80.16pt,80.16pt}{L}{C}{lyC, lxL}
\scat{231.36pt,80.16pt}{F}{C}{lxF}
\scat{382.56pt,80.16pt}{G}{C}{lxG}
\scat{533.76pt,80.16pt}{T}{C}{lxT}
\scat{684.96pt,80.16pt}{S}{C}{lxS}
\scat{836.16pt,80.16pt}{M}{C}{lxM}
\begin{axis}[base, at={(987.36pt,80.16pt)}, vxC, ymin=0, ymax=588, ytick=\empty, lxC]
  \addplot[hs] coordinates {(0.245,0) (0.32155,10) (0.3981,87) (0.47465,204) (0.5512,431) (0.62775,534) (0.7043,471) (0.78085,444) (0.8574,289) (0.93395,180) (1.0105,91) (1.08705,66) (1.1636,25) (1.24015,20) (1.3167,8) (1.39325,5) (1.4698,11) (1.54635,8) (1.623,5) (1.69955,11) (1.7761,8) (1.7761,0)};
\end{axis}
\end{tikzpicture}
\end{document}
